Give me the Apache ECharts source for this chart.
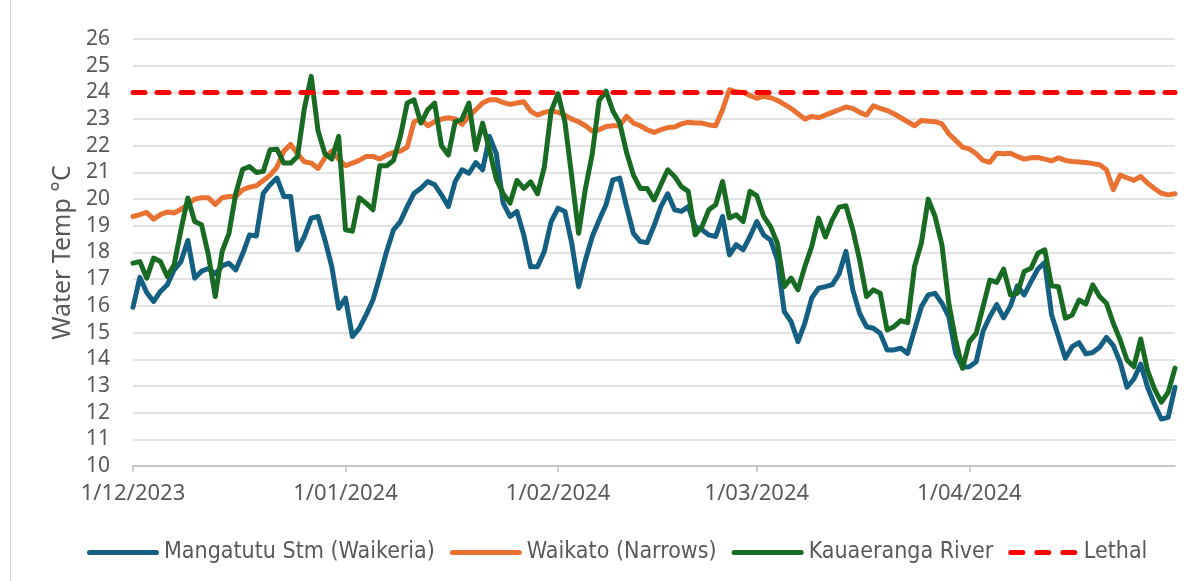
<!DOCTYPE html>
<html>
<head>
<meta charset="utf-8">
<title>Water Temp</title>
<script src="https://cdn.jsdelivr.net/npm/echarts@6/dist/echarts.min.js"></script>
<style>
  html, body { margin: 0; padding: 0; background: #fff; }
  #chart { width: 1198px; height: 581px; }
  #edge { position: absolute; left: 10px; top: 0; width: 1px; height: 581px; background: #d9d9d9; }
</style>
</head>
<body>
<div id="chart"></div>
<div id="edge"></div>
<script>
// daily readings, 1/12/2023 onwards (one value per day)
const startDay = Date.UTC(2023, 11, 1);

const mangatutu = [
  15.95, 17.07, 16.5, 16.16, 16.54, 16.79, 17.35, 17.66, 18.45, 17.04,
  17.3, 17.4, 17.2, 17.5, 17.6, 17.35, 17.95, 18.66, 18.62, 20.22,
  20.54, 20.79, 20.1, 20.1, 18.1, 18.6, 19.29, 19.35, 18.47, 17.47,
  15.91, 16.29, 14.85, 15.16, 15.66, 16.22, 17.1, 18.04, 18.85, 19.16,
  19.72, 20.22, 20.41, 20.66, 20.54, 20.16, 19.72, 20.66, 21.1, 20.97,
  21.37, 21.1, 22.35, 21.7, 19.85, 19.35, 19.54, 18.66, 17.47, 17.47,
  18.04, 19.16, 19.66, 19.54, 18.35, 16.72, 17.72, 18.6, 19.22, 19.79,
  20.72, 20.79, 19.72, 18.72, 18.41, 18.37, 19.0, 19.72, 20.2, 19.6,
  19.54, 19.72, 18.97, 18.85, 18.66, 18.6, 19.35, 17.91, 18.29, 18.1,
  18.6, 19.16, 18.66, 18.47, 17.72, 15.79, 15.41, 14.66, 15.35, 16.29,
  16.66, 16.72, 16.8, 17.2, 18.04, 16.6, 15.72, 15.22, 15.16, 14.97,
  14.35, 14.35, 14.41, 14.22, 15.1, 15.97, 16.41, 16.47, 16.1, 15.6,
  14.22, 13.7, 13.72, 13.91, 15.05, 15.6, 16.05, 15.55, 16.0, 16.75,
  16.41, 16.91, 17.38, 17.62, 15.66, 14.85, 14.04, 14.47, 14.62, 14.2,
  14.25, 14.45, 14.82, 14.51, 13.89, 12.95, 13.26, 13.82, 12.95, 12.32,
  11.76, 11.82, 12.95
];

const waikato = [
  19.35, 19.42, 19.5, 19.25, 19.42, 19.52, 19.48, 19.62, 19.8, 20.0,
  20.05, 20.05, 19.8, 20.05, 20.1, 20.1, 20.35, 20.45, 20.5, 20.7,
  20.9, 21.2, 21.8, 22.05, 21.7, 21.4, 21.35, 21.15, 21.55, 21.8,
  21.5, 21.25, 21.35, 21.45, 21.6, 21.6, 21.5, 21.65, 21.75, 21.8,
  21.95, 22.9, 23.0, 22.75, 22.9, 23.0, 23.05, 23.0, 22.8, 23.1,
  23.35, 23.6, 23.72, 23.72, 23.62, 23.55, 23.6, 23.65, 23.3, 23.15,
  23.25, 23.3, 23.25, 23.15, 23.0, 22.9, 22.75, 22.55, 22.6, 22.72,
  22.75, 22.75, 23.1, 22.85, 22.75, 22.6, 22.5, 22.6, 22.68, 22.7,
  22.82, 22.88, 22.85, 22.85, 22.78, 22.75, 23.35, 24.1, 24.02, 24.0,
  23.88, 23.78, 23.85, 23.8, 23.7, 23.55, 23.4, 23.2, 23.0, 23.1,
  23.05, 23.15, 23.25, 23.35, 23.45, 23.4, 23.25, 23.15, 23.5, 23.4,
  23.32, 23.2, 23.05, 22.9, 22.75, 22.95, 22.92, 22.9, 22.82, 22.45,
  22.2, 21.95, 21.88, 21.7, 21.45, 21.38, 21.72, 21.7, 21.72, 21.6,
  21.5, 21.55, 21.56, 21.5, 21.43, 21.55, 21.45, 21.41, 21.39, 21.37,
  21.33, 21.29, 21.1, 20.35, 20.9, 20.8, 20.7, 20.85, 20.6, 20.4,
  20.22, 20.16, 20.2
];

const kauaeranga = [
  17.6, 17.66, 17.04, 17.79, 17.66, 17.1, 17.54, 18.85, 20.04, 19.16,
  19.04, 17.9, 16.35, 18.04, 18.72, 20.22, 21.12, 21.22, 21.0, 21.04,
  21.85, 21.87, 21.35, 21.35, 21.6, 23.4, 24.6, 22.55, 21.7, 21.5,
  22.35, 18.85, 18.8, 20.05, 19.85, 19.6, 21.25, 21.25, 21.45, 22.35,
  23.6, 23.72, 22.85, 23.35, 23.6, 22.0, 21.65, 22.9, 23.0, 23.6,
  21.85, 22.85, 21.85, 20.75, 20.2, 19.85, 20.7, 20.4, 20.65, 20.2,
  21.2, 23.3, 23.95, 22.9, 20.85, 18.72, 20.4, 21.7, 23.7, 24.05,
  23.3, 22.85, 21.75, 20.9, 20.4, 20.4, 19.97, 20.54, 21.1, 20.85,
  20.47, 20.29, 18.66, 18.97, 19.6, 19.79, 20.66, 19.29, 19.41, 19.16,
  20.29, 20.12, 19.35, 18.97, 18.35, 16.72, 17.04, 16.6, 17.47, 18.22,
  19.29, 18.58, 19.22, 19.7, 19.75, 18.85, 17.72, 16.35, 16.6, 16.47,
  15.1, 15.22, 15.45, 15.37, 17.47, 18.35, 20.0, 19.35, 18.29, 16.1,
  14.72, 13.66, 14.66, 14.97, 15.97, 16.97, 16.88, 17.38, 16.41, 16.47,
  17.29, 17.41, 17.97, 18.1, 16.75, 16.72, 15.54, 15.66, 16.22, 16.07,
  16.79, 16.35, 16.1, 15.35, 14.72, 13.97, 13.72, 14.76, 13.57, 12.89,
  12.39, 12.76, 13.67
];

const lethalTemp = 24;

const seriesNames = ['Mangatutu Stm (Waikeria)', 'Waikato (Narrows)', 'Kauaeranga River', 'Lethal'];
const seriesColors = ['#156082', '#e97132', '#196b24', '#ff0000'];

const yMin = 10, yMax = 26, yStep = 1;

// d/mm/yyyy labels like the original
const dates = [];
for (let i = 0; i < mangatutu.length; i++) {
  const d = new Date(startDay + i * 86400000);
  dates.push(d.getUTCDate() + '/' + String(d.getUTCMonth() + 1).padStart(2, '0') + '/' + d.getUTCFullYear());
}
const lastIdx = dates.length - 1;
const isMonthStart = (idx, val) => val.indexOf('1/') === 0 && idx < lastIdx;

const lineSeries = (name, data, color, extra) => Object.assign({
  name: name,
  type: 'line',
  data: data,
  symbol: 'none',
  showSymbol: false,
  smooth: false,
  lineStyle: { color: color, width: 5, cap: 'round', join: 'round' },
  itemStyle: { color: color }
}, extra || {});

// legend swatches: plain bars, three dashes for the lethal line
const solidIcon = 'path://M2.5,0H69.5A2.5,2.5,0,0,1,69.5,5H2.5A2.5,2.5,0,0,1,2.5,0Z';
const dashIcon = 'path://M2.5,0H14.5A2.5,2.5,0,0,1,14.5,5H2.5A2.5,2.5,0,0,1,2.5,0Z' +
  'M28.5,0H40.5A2.5,2.5,0,0,1,40.5,5H28.5A2.5,2.5,0,0,1,28.5,0Z' +
  'M54.5,0H66.5A2.5,2.5,0,0,1,66.5,5H54.5A2.5,2.5,0,0,1,54.5,0Z';

const chart = echarts.init(document.getElementById('chart'), null, { renderer: 'canvas' });

const option = {
  animation: false,
  backgroundColor: '#ffffff',
  grid: { left: 133, right: 23, top: 39, bottom: 115 },
  legend: {
    left: 82,
    top: 536,
    itemWidth: 72,
    itemHeight: 5,
    itemGap: 15,
    data: [
      { name: seriesNames[0], icon: solidIcon },
      { name: seriesNames[1], icon: solidIcon },
      { name: seriesNames[2], icon: solidIcon },
      { name: seriesNames[3], icon: dashIcon }
    ],
    textStyle: { color: '#595959', fontSize: 23, fontFamily: 'DejaVu Sans Condensed' }
  },
  xAxis: {
    type: 'category',
    data: dates,
    boundaryGap: false,
    axisLine: { lineStyle: { color: '#bfbfbf', width: 1.5 } },
    axisTick: { show: true, length: 6, interval: isMonthStart, lineStyle: { color: '#bfbfbf', width: 1.5 } },
    axisLabel: {
      interval: isMonthStart,
      color: '#595959',
      fontSize: 22,
      fontFamily: 'Noto Sans',
      margin: 17
    },
    splitLine: { show: false }
  },
  yAxis: {
    type: 'value',
    min: yMin,
    max: yMax,
    interval: yStep,
    name: 'Water Temp °C',
    nameLocation: 'middle',
    nameGap: 57,
    nameTextStyle: { color: '#595959', fontSize: 25, fontFamily: 'Noto Sans' },
    axisLine: { show: false },
    axisTick: { show: false },
    axisLabel: { color: '#595959', fontSize: 21, fontFamily: 'Noto Sans', margin: 23 },
    splitLine: { lineStyle: { color: '#d9d9d9', width: 1.5 } }
  },
  series: [
    lineSeries(seriesNames[0], mangatutu, seriesColors[0]),
    lineSeries(seriesNames[1], waikato, seriesColors[1]),
    lineSeries(seriesNames[2], kauaeranga, seriesColors[2]),
    lineSeries(seriesNames[3], dates.map(() => lethalTemp), seriesColors[3], {
      lineStyle: { color: seriesColors[3], width: 5, type: [12, 12], cap: 'round' }
    })
  ]
};

chart.setOption(option);
</script>
</body>
</html>
